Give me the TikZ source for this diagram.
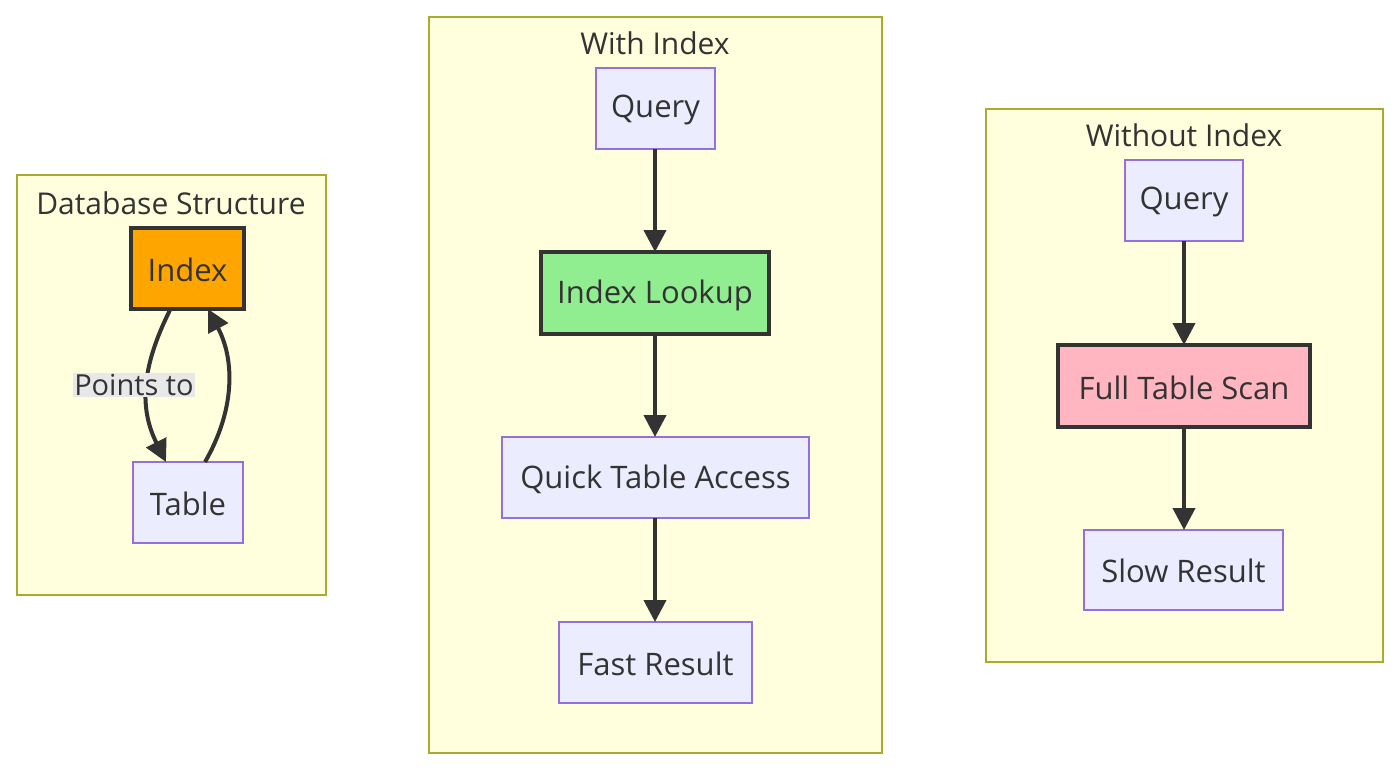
\documentclass[tikz,border=0pt]{standalone}
\usepackage{fontspec}
\setmainfont{Open Sans}
\usetikzlibrary{arrows.meta}
\definecolor{nfill}{HTML}{ECECFF}
\definecolor{nborder}{HTML}{9370DB}
\definecolor{cfill}{HTML}{FFFFDE}
\definecolor{cborder}{HTML}{AAAA33}
\definecolor{ink}{HTML}{333333}
\begin{document}
\begin{tikzpicture}[x=1pt,y=-1pt,
  cluster/.style={draw=cborder,fill=cfill,line width=2pt},
  ctitle/.style={font=\fontsize{30}{34}\selectfont,text=ink,anchor=center},
  box/.style={draw=nborder,fill=nfill,line width=2pt},
  hbox/.style={draw=ink,line width=4pt},
  lbl/.style={font=\fontsize{31}{35}\selectfont,text=ink,anchor=center},
  arr/.style={draw=ink,line width=4pt,-{Triangle[length=22pt,width=22pt]}}]
\useasboundingbox (0,0) rectangle (1400,771);
\fill[white] (0,0) rectangle (1400,771);
% clusters
\draw[cluster] (17,175) rectangle (326,595);
\node[ctitle] (t1) at (171,203) {Database Structure};
\draw[cluster] (429,17) rectangle (882,753);
\node[ctitle] (t2) at (655,43) {With Index};
\draw[cluster] (986,109) rectangle (1383,662);
\node[ctitle] (t3) at (1184,135) {Without Index};
% nodes
\draw[hbox,fill={rgb,255:red,255;green,165;blue,0}] (131,228) rectangle (244,309);
\node[lbl] (idx) at (187.5,270) {Index};
\draw[box] (133,462) rectangle (243,543);
\node[lbl] (tbl) at (188,504) {Table};
\draw[box] (596,68) rectangle (715,149);
\node[lbl] (q1) at (655.5,110) {Query};
\draw[hbox,fill={rgb,255:red,144;green,238;blue,144}] (541,252) rectangle (769,334);
\node[lbl] (il) at (655,295) {Index Lookup};
\draw[box] (502,437) rectangle (809,518);
\node[lbl] (qa) at (655.5,479) {Quick Table Access};
\draw[box] (559,622) rectangle (752,703);
\node[lbl] (fr) at (655.5,664) {Fast Result};
\draw[box] (1125,160) rectangle (1243,241);
\node[lbl] (q2) at (1184,202) {Query};
\draw[hbox,fill={rgb,255:red,255;green,182;blue,193}] (1058,345) rectangle (1310,427);
\node[lbl] (fs) at (1184,388) {Full Table Scan};
\draw[box] (1084,530) rectangle (1283,610);
\node[lbl] (sr) at (1183.5,571) {Slow Result};
% coordinates
\coordinate (a1) at (170,310);
\coordinate (a2) at (166,462);
\coordinate (b1) at (205,462);
\coordinate (b2) at (208,309);
\coordinate (q1b) at (655,149); \coordinate (ilt) at (655,252);
\coordinate (ilb) at (655,334); \coordinate (qat) at (655,437);
\coordinate (qab) at (655,518); \coordinate (frt) at (655,622);
\coordinate (q2b) at (1184,241); \coordinate (fst) at (1184,345);
\coordinate (fsb) at (1184,427); \coordinate (srt) at (1184,530);
% edges
\draw[arr] (a1) .. controls (140,370) and (140,410) .. (a2);
\node[fill={rgb,255:red,232;green,232;blue,232},inner sep=1pt,font=\fontsize{29}{33}\selectfont,text=ink] (pl) at (134,385) {Points to};
\draw[arr] (b1) .. controls (235,410) and (235,360) .. (b2);
\draw[arr] (q1b) -- (ilt);
\draw[arr] (ilb) -- (qat);
\draw[arr] (qab) -- (frt);
\draw[arr] (q2b) -- (fst);
\draw[arr] (fsb) -- (srt);
\end{tikzpicture}
\end{document}
